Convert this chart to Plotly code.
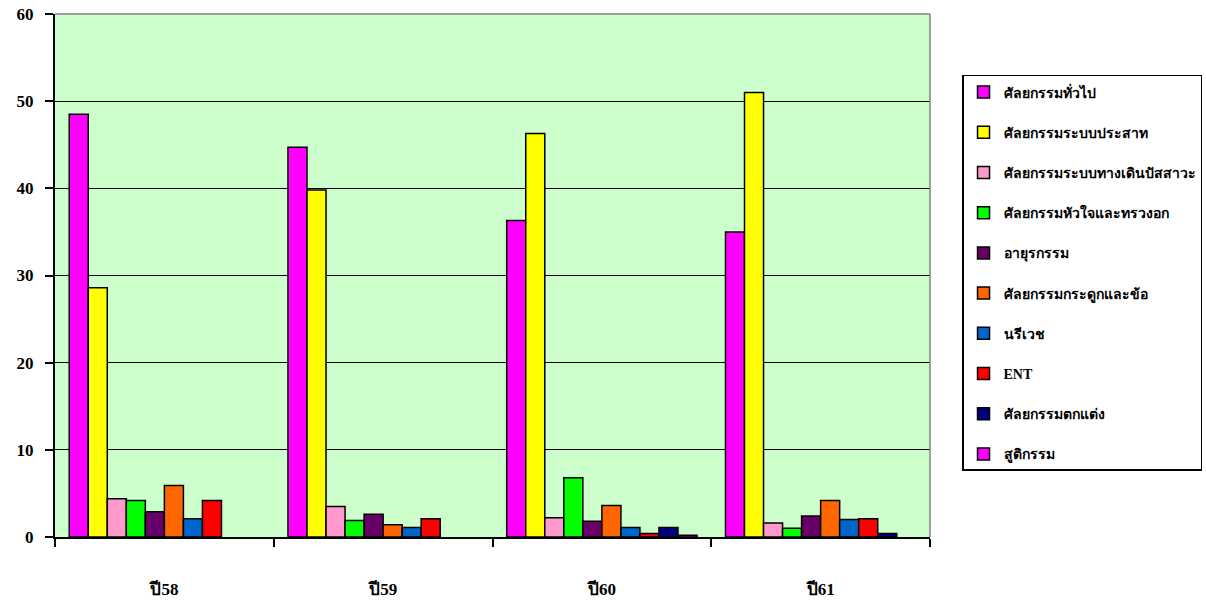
import plotly.graph_objects as go

categories = ["ปี58", "ปี59", "ปี60", "ปี61"]
series_names = [
    "ศัลยกรรมทั่วไป",
    "ศัลยกรรมระบบประสาท",
    "ศัลยกรรมระบบทางเดินปัสสาวะ",
    "ศัลยกรรมหัวใจและทรวงอก",
    "อายุรกรรม",
    "ศัลยกรรมกระดูกและข้อ",
    "นรีเวช",
    "ENT",
    "ศัลยกรรมตกแต่ง",
    "สูติกรรม",
]
general = [48.5, 44.7, 36.3, 35.0]
neuro = [28.6, 39.8, 46.3, 51.0]
uro = [4.4, 3.5, 2.2, 1.6]
cardio = [4.2, 1.9, 6.8, 1.0]
medicine = [2.9, 2.6, 1.8, 2.4]
ortho = [5.9, 1.4, 3.6, 4.2]
gyn = [2.1, 1.1, 1.1, 2.0]
ent = [4.2, 2.1, 0.4, 2.1]
plastic = [None, None, 1.1, 0.4]
obstetric = [None, None, 0.2, None]
series_values = [general, neuro, uro, cardio, medicine, ortho, gyn, ent, plastic, obstetric]
colors = ["#FF00FF", "#FFFF00", "#FF99CC", "#00FF00", "#660066",
          "#FF6600", "#0066CC", "#FF0000", "#000080", "#FF00FF"]
y_ticks = [0, 10, 20, 30, 40, 50, 60]

FONT = "Liberation Serif, Times New Roman, serif"

fig = go.Figure()
for i, (name, vals, col) in enumerate(zip(series_names, series_values, colors)):
    fig.add_trace(go.Bar(
        x=categories, y=vals, name=name, legendgroup=f"g{i}",
        marker=dict(color=col, line=dict(color="black", width=1.5)),
    ))

fig.update_layout(
    width=1206, height=606,
    margin=dict(l=55, r=276, t=14, b=69, autoexpand=False),
    paper_bgcolor="white",
    plot_bgcolor="#CCFFCC",
    barmode="group",
    bargap=0.13,
    bargroupgap=0,
    font=dict(family=FONT, color="black", size=16),
    showlegend=True,
    legend=dict(
        x=1.0366, y=0.8834, xanchor="left", yanchor="top",
        bgcolor="white", bordercolor="black", borderwidth=1.5,
        font=dict(family=FONT, size=14, color="black", weight="bold"),
        tracegroupgap=19,
        itemwidth=30,
    ),
    xaxis=dict(
        type="category",
        tickson="boundaries",
        ticks="outside", ticklen=8, tickwidth=1.5, tickcolor="black",
        showline=True, linecolor="black", linewidth=2,
        showgrid=False, automargin=False,
        tickfont=dict(family=FONT, size=17, weight="bold"),
        ticklabelstandoff=36,
    ),
    yaxis=dict(
        range=[0, 60], tickvals=y_ticks,
        ticks="outside", ticklen=8, tickwidth=1.5, tickcolor="black",
        showline=True, linecolor="black", linewidth=2,
        showgrid=True, gridcolor="black", gridwidth=1,
        zeroline=False, automargin=False,
        ticklabeloverflow="allow",
        tickfont=dict(family=FONT, size=17, weight="bold"),
        ticklabelstandoff=8,
    ),
    shapes=[
        dict(type="line", xref="paper", yref="paper", x0=0, x1=1, y0=1, y1=1,
             line=dict(color="#808080", width=1.5), layer="above"),
        dict(type="line", xref="paper", yref="paper", x0=1, x1=1, y0=0, y1=1,
             line=dict(color="#808080", width=1.5), layer="above"),
    ],
)

fig.write_html("out.html", config={"displayModeBar": False},
               post_script="document.body.style.margin='0px';")
